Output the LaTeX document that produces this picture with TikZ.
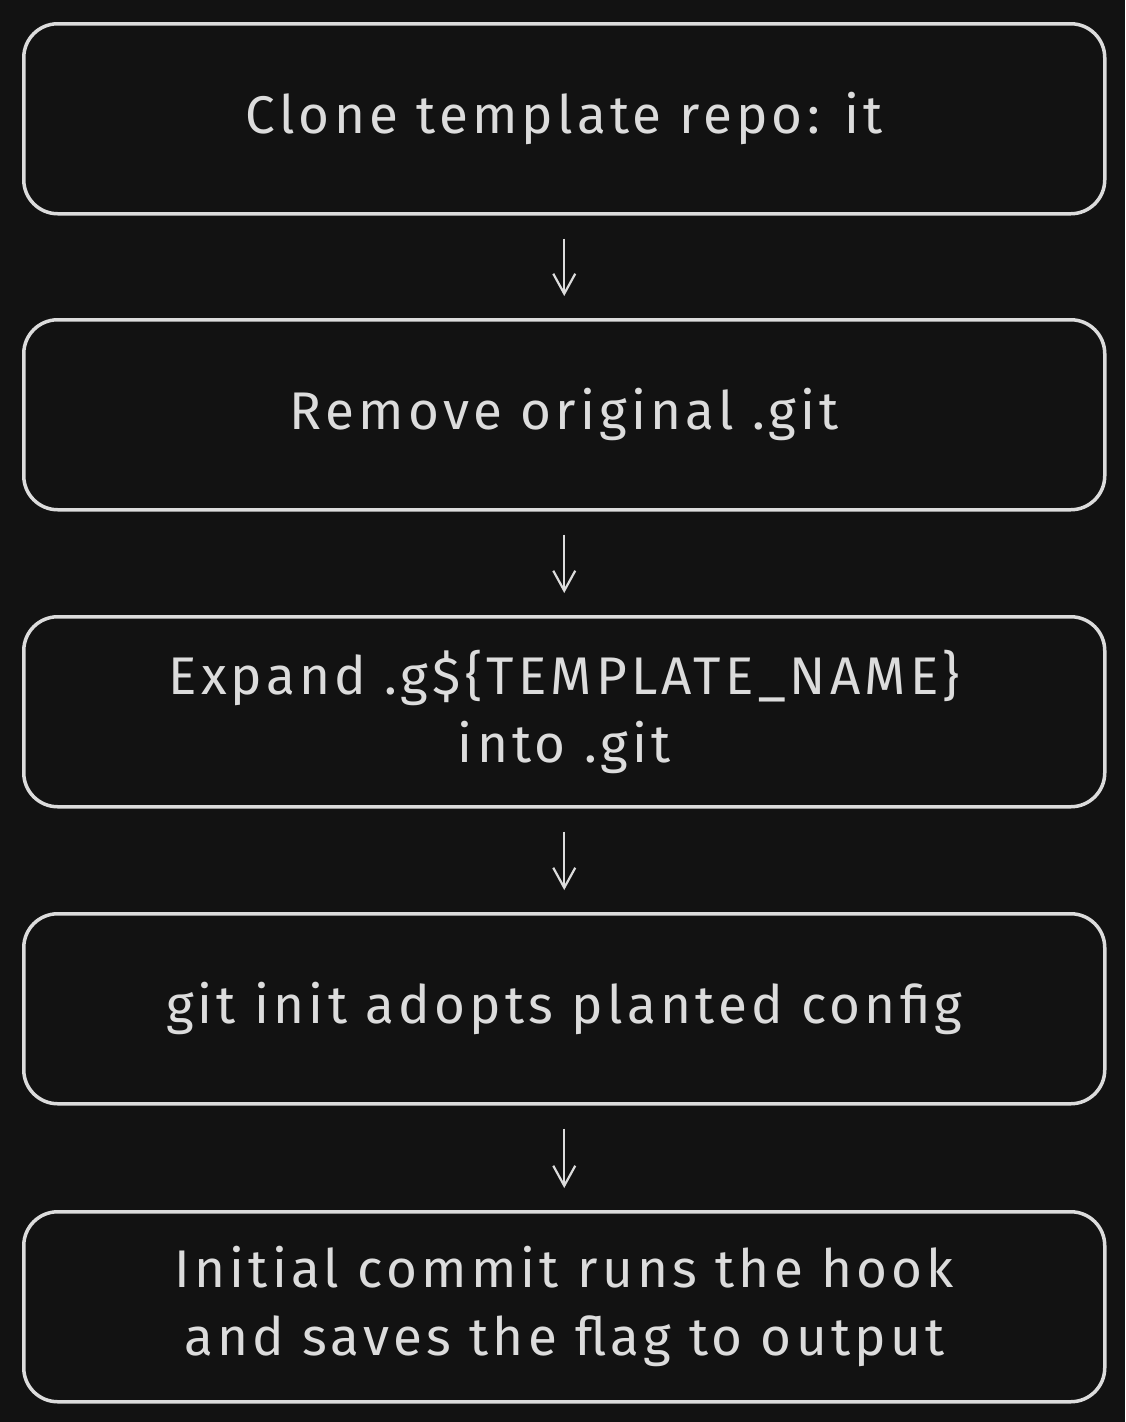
\documentclass[tikz,border=0pt]{standalone}
\usepackage{fontspec}
\setmainfont{Fira Sans}[LetterSpace=8]
\usetikzlibrary{arrows.meta}
\definecolor{bgc}{HTML}{121212}
\definecolor{ink}{HTML}{DCDCDC}
\begin{document}
\begin{tikzpicture}[x=1pt,y=-1pt,
  stepbox/.style={draw=ink,line width=3.5pt,rounded corners=34pt,minimum width=1081pt,minimum height=190pt,anchor=north west,inner sep=0pt},
  lbl/.style={text=ink,font=\fontsize{53}{68}\selectfont,align=center},
  arr/.style={draw=ink,line width=2.2pt,-{Straight Barb[length=20pt,width=22pt]}}]
\fill[bgc] (0,0) rectangle (1125,1422);
\useasboundingbox (0,0) rectangle (1125,1422);
\node[stepbox] (b1) at (22,22) {};
\node[stepbox] (b2) at (22,318) {};
\node[stepbox] (b3) at (22,615) {};
\node[stepbox] (b4) at (22,912) {};
\node[stepbox] (b5) at (22,1210) {};
\node[lbl] (t1) at (b1.center) {Clone template repo: it};
\node[lbl] (t2) at (b2.center) {Remove original .git};
\node[lbl] (t3) at (b3.center) {Expand .g\$\{TEMPLATE\_NAME\}\\into .git};
\node[lbl] (t4) at (b4.center) {git init adopts planted config};
\node[lbl] (t5) at (b5.center) {Initial commit runs the hook\\and saves the flag to output};
\draw[arr] ([yshift=-23]b1.south) -- ([yshift=22]b2.north);
\draw[arr] ([yshift=-23]b2.south) -- ([yshift=22]b3.north);
\draw[arr] ([yshift=-23]b3.south) -- ([yshift=22]b4.north);
\draw[arr] ([yshift=-23]b4.south) -- ([yshift=22]b5.north);
\end{tikzpicture}
\end{document}
